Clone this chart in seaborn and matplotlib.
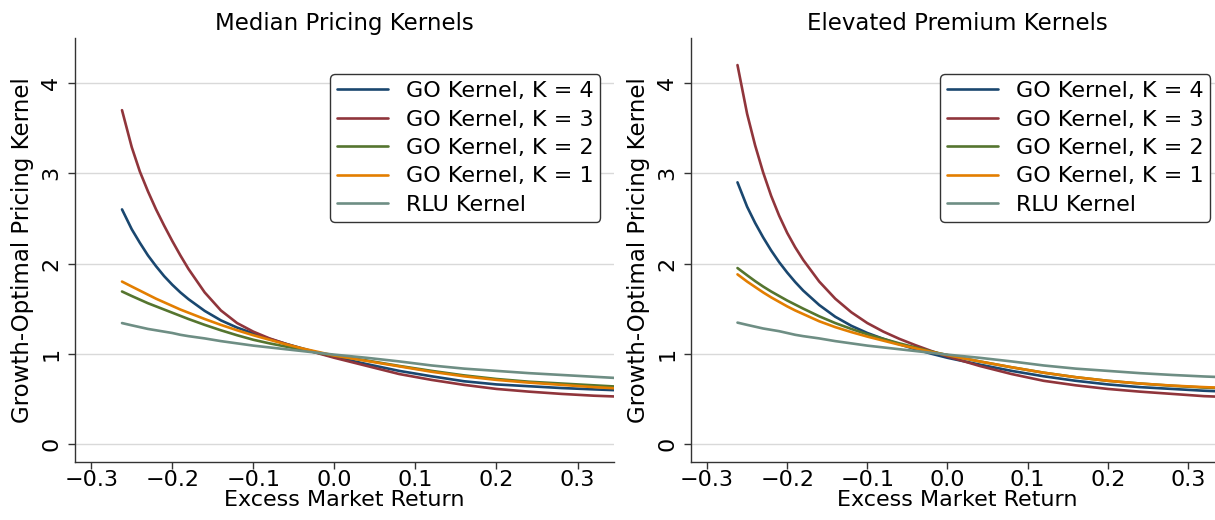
import numpy as np
import pandas as pd
import matplotlib
matplotlib.use("Agg")
import matplotlib.pyplot as plt
import seaborn as sns

# ---------------- data ----------------
excess_return = [-0.262, -0.25, -0.24, -0.23, -0.22, -0.21, -0.20, -0.19, -0.18,
                 -0.16, -0.14, -0.12, -0.10, -0.08, -0.06, -0.04, -0.02, 0.0,
                 0.04, 0.08, 0.12, 0.16, 0.20, 0.24, 0.28, 0.32, 0.35]

series_names = ["GO Kernel, K = 4", "GO Kernel, K = 3", "GO Kernel, K = 2",
                "GO Kernel, K = 1", "RLU Kernel"]

# Median Pricing Kernels
median_k4 = [2.60, 2.38, 2.23, 2.09, 1.97, 1.86, 1.765, 1.68, 1.605,
             1.475, 1.37, 1.29, 1.225, 1.165, 1.11, 1.06, 1.01, 0.965,
             0.885, 0.81, 0.75, 0.695, 0.66, 0.64, 0.62, 0.605, 0.595]
median_k3 = [3.70, 3.29, 3.02, 2.80, 2.60, 2.42, 2.25, 2.09, 1.94,
             1.68, 1.48, 1.34, 1.245, 1.17, 1.11, 1.055, 1.005, 0.955,
             0.865, 0.775, 0.71, 0.655, 0.61, 0.58, 0.555, 0.535, 0.525]
median_k2 = [1.69, 1.64, 1.60, 1.56, 1.525, 1.49, 1.455, 1.42, 1.385,
             1.32, 1.26, 1.205, 1.155, 1.115, 1.08, 1.045, 1.01, 0.98,
             0.925, 0.865, 0.81, 0.76, 0.72, 0.69, 0.67, 0.65, 0.635]
median_k1 = [1.80, 1.745, 1.70, 1.655, 1.61, 1.57, 1.53, 1.49, 1.455,
             1.385, 1.32, 1.26, 1.205, 1.155, 1.105, 1.06, 1.02, 0.98,
             0.92, 0.86, 0.80, 0.75, 0.71, 0.68, 0.655, 0.63, 0.615]
median_rlu = [1.34, 1.315, 1.295, 1.275, 1.26, 1.245, 1.23, 1.21, 1.195,
              1.17, 1.14, 1.115, 1.09, 1.07, 1.05, 1.03, 1.01, 0.99,
              0.955, 0.915, 0.87, 0.835, 0.81, 0.785, 0.765, 0.745, 0.73]

# Elevated Premium Kernels
elevated_k4 = [2.90, 2.63, 2.45, 2.29, 2.145, 2.015, 1.90, 1.795, 1.70,
               1.54, 1.41, 1.31, 1.23, 1.165, 1.105, 1.05, 1.00, 0.955,
               0.88, 0.81, 0.75, 0.70, 0.66, 0.63, 0.61, 0.59, 0.58]
elevated_k3 = [4.20, 3.66, 3.31, 3.01, 2.75, 2.53, 2.34, 2.18, 2.04,
               1.80, 1.61, 1.46, 1.34, 1.245, 1.165, 1.095, 1.03, 0.97,
               0.865, 0.775, 0.70, 0.65, 0.61, 0.58, 0.555, 0.53, 0.52]
elevated_k2 = [1.95, 1.87, 1.805, 1.745, 1.69, 1.64, 1.59, 1.545, 1.50,
               1.415, 1.34, 1.275, 1.215, 1.165, 1.115, 1.07, 1.025, 0.985,
               0.915, 0.85, 0.79, 0.74, 0.70, 0.67, 0.645, 0.625, 0.615]
elevated_k1 = [1.88, 1.80, 1.74, 1.68, 1.625, 1.575, 1.525, 1.48, 1.44,
               1.36, 1.295, 1.24, 1.19, 1.145, 1.10, 1.06, 1.02, 0.985,
               0.915, 0.85, 0.79, 0.74, 0.70, 0.67, 0.647, 0.63, 0.62]
elevated_rlu = [1.345, 1.32, 1.30, 1.28, 1.265, 1.25, 1.23, 1.21, 1.195,
                1.17, 1.14, 1.115, 1.09, 1.07, 1.05, 1.03, 1.01, 0.99,
                0.955, 0.915, 0.87, 0.835, 0.81, 0.785, 0.765, 0.748, 0.738]

panel_titles = ["Median Pricing Kernels", "Elevated Premium Kernels"]
x_ticks = [-0.3, -0.2, -0.1, 0.0, 0.1, 0.2, 0.3]
y_ticks = [0, 1, 2, 3, 4]

colors = ["#1a476f", "#90353b", "#55752f", "#e37e00", "#6e8e84"]

# ---------------- build long-form tables ----------------
def make_frame(values):
    frames = []
    for name, vals in zip(series_names, values):
        frames.append(pd.DataFrame({"x": excess_return, "y": vals, "series": name}))
    return pd.concat(frames, ignore_index=True)

df_median = make_frame([median_k4, median_k3, median_k2, median_k1, median_rlu])
df_elev = make_frame([elevated_k4, elevated_k3, elevated_k2, elevated_k1, elevated_rlu])

# ---------------- plotting ----------------
sns.set_theme(style="white")
plt.rcParams["font.family"] = ["DejaVu Sans"]
plt.rcParams["text.color"] = "black"
plt.rcParams["axes.labelcolor"] = "black"
plt.rcParams["xtick.color"] = "black"
plt.rcParams["ytick.color"] = "black"

fig = plt.figure(figsize=(12.15, 5.2), dpi=100)
ax1 = fig.add_axes([75 / 1215, 58 / 520, 539 / 1215, 424 / 520])
ax2 = fig.add_axes([691 / 1215, 58 / 520, 533 / 1215, 424 / 520])

palette = dict(zip(series_names, colors))

for ax, df, title in [(ax1, df_median, panel_titles[0]), (ax2, df_elev, panel_titles[1])]:
    sns.lineplot(data=df, x="x", y="y", hue="series", hue_order=series_names,
                 palette=palette, linewidth=1.9, ax=ax, sort=False)
    ax.set_xlim(-0.32, 0.345)
    ax.set_ylim(-0.2, 4.5)
    ax.set_xticks(x_ticks)
    ax.set_xticklabels([f"{t:.1f}".replace("-", "\u2212") for t in x_ticks])
    ax.set_yticks(y_ticks)
    ax.set_yticklabels([str(t) for t in y_ticks], rotation=90, va="center")
    ax.tick_params(axis="both", labelsize=16, length=5, width=1, color="#333333",
                   direction="out", bottom=True, left=True)
    ax.tick_params(axis="x", pad=1)
    ax.tick_params(axis="y", pad=5)
    ax.grid(axis="y", color="#d9d9d9", linewidth=1)
    ax.grid(axis="x", visible=False)
    for s in ["top", "right"]:
        ax.spines[s].set_visible(False)
    for s in ["left", "bottom"]:
        ax.spines[s].set_color("#333333")
        ax.spines[s].set_linewidth(1)
    ax.set_title(title, fontsize=16.5, pad=6)
    ax.set_xlabel("Excess Market Return", fontsize=16, labelpad=0)
    ax.set_ylabel("Growth-Optimal Pricing Kernel", fontsize=16.5, labelpad=5)
    leg = ax.legend(loc="upper right", bbox_to_anchor=(0.974, 0.914),
                    borderaxespad=0, fontsize=16, frameon=True, fancybox=True,
                    handlelength=2.3, handletextpad=0.8, labelspacing=0.38,
                    borderpad=0.3, title=None)
    leg.get_frame().set_edgecolor("#333333")
    leg.get_frame().set_linewidth(1)
    leg.get_frame().set_alpha(1)
    for line in leg.get_lines():
        line.set_linewidth(1.9)

fig.savefig("out.png", dpi=100)
